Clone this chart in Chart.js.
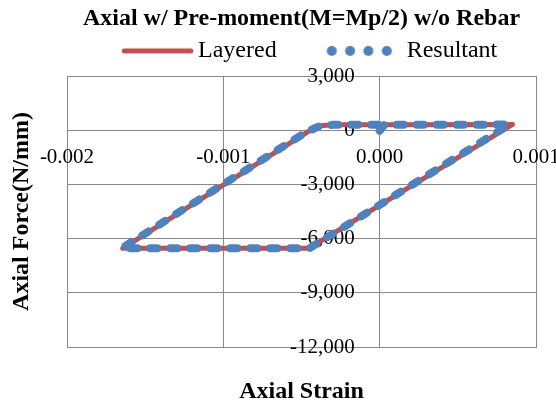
<!DOCTYPE html>
<html><head><meta charset="utf-8">
<script src="https://cdn.jsdelivr.net/npm/chart.js@4.4.1/dist/chart.umd.min.js"></script>
<style>html,body{margin:0;padding:0;background:#fff;}canvas{display:block;}</style>
</head><body>
<canvas id="c" width="556" height="407"></canvas>
<script>
const chartTitle = 'Axial w/ Pre-moment(M=Mp/2) w/o Rebar';
const xTitle = 'Axial Strain';
const yTitle = 'Axial Force(N/mm)';
const seriesNames = ['Layered', 'Resultant'];

const layeredStrain = [0, 0.00004, 0.00085, -0.000454, -0.001644, -0.00046, -0.00038, -0.00030, 0];
const layeredForce  = [0, 300, 320, -6540, -6540, -90, 250, 300, 300];

const resultantStrain = [0, 0.00003, 0.00083, -0.00045, -0.00165, -0.00047, -0.00038, -0.00030, 0.00002];
const resultantForce  = [-30, 300, 310, -6540, -6540, -100, 240, 300, 300];

const xTickLabels = ['-0.002', '-0.001', '0.000', '0.001'];
const yTickLabels = ['-12,000', '-9,000', '-6,000', '-3,000', '0', '3,000'];

const X_MIN = -0.002, X_MAX = 0.001, X_STEP = 0.001;
const Y_MIN = -12000, Y_MAX = 3000, Y_STEP = 3000;

const RED = '#C0504D';
const BLUE = '#4F81BD';
const GRID = '#898989';
const FF = "'Liberation Serif', 'Times New Roman', Times, serif";

function lineImg() {
  const c = document.createElement('canvas');
  c.width = 134; c.height = 14;
  const g = c.getContext('2d');
  g.strokeStyle = RED; g.lineWidth = 5; g.lineCap = 'round';
  g.beginPath(); g.moveTo(67 + 27.5 - 33.3, 7); g.lineTo(67 + 27.5 + 33.3, 7); g.stroke();
  return c;
}
function dotsImg() {
  const c = document.createElement('canvas');
  c.width = 112; c.height = 14;
  const g = c.getContext('2d');
  g.fillStyle = BLUE;
  [-6.9, 11.4, 29.7, 48.1].forEach(dx => { g.beginPath(); g.arc(56 + dx, 7, 5, 0, Math.PI * 2); g.fill(); });
  return c;
}
const legendImgs = [lineImg(), dotsImg()];

const toPts = (xs, ys) => xs.map((x, i) => ({x: x, y: ys[i]}));

new Chart(document.getElementById('c'), {
  type: 'line',
  data: {
    datasets: [
      {label: seriesNames[0], data: toPts(layeredStrain, layeredForce), borderColor: RED, backgroundColor: RED,
       borderWidth: 5, pointRadius: 0, fill: false, tension: 0, order: 1, borderJoinStyle: 'round'},
      {label: seriesNames[1], data: toPts(resultantStrain, resultantForce), borderColor: BLUE, backgroundColor: BLUE,
       borderWidth: 8, borderDash: [7, 13], borderCapStyle: 'round', pointRadius: 0, fill: false, tension: 0, order: 0}
    ]
  },
  options: {
    responsive: false,
    animation: false,
    devicePixelRatio: 1,
    layout: {padding: {left: 35.3, right: 20, top: 0, bottom: 0}},
    plugins: {
      tooltip: {enabled: false},
      title: {display: true, text: chartTitle, color: '#000', fullSize: false,
              font: {family: FF, size: 24, weight: 'bold'}, padding: {top: 4.1, bottom: 0}},
      legend: {
        display: true, position: 'top',
        labels: {
          usePointStyle: true, pointStyleWidth: 112, padding: 6, color: '#000',
          font: {family: FF, size: 24},
          generateLabels: (chart) => chart.data.datasets.map((ds, i) => ({
            text: ds.label, fillStyle: ds.borderColor, strokeStyle: ds.borderColor, lineWidth: 0,
            pointStyle: legendImgs[i], hidden: false, datasetIndex: i, fontColor: '#000'
          }))
        }
      }
    },
    scales: {
      x: {
        type: 'linear', position: 'bottom', min: X_MIN, max: X_MAX,
        ticks: {display: false, stepSize: X_STEP},
        grid: {color: GRID, lineWidth: 1, drawTicks: false},
        border: {display: true, color: GRID, width: 1},
        title: {display: true, text: xTitle, color: '#000', font: {family: FF, size: 24, weight: 'bold'}, padding: {top: 30.6, bottom: 0.6}},
        afterFit: (s) => { s.height = 60; }
      },
      y: {
        type: 'linear', position: 'left', min: Y_MIN, max: Y_MAX,
        ticks: {display: false, stepSize: Y_STEP},
        grid: {color: GRID, lineWidth: 1, drawTicks: false},
        border: {display: true, color: GRID, width: 1},
        title: {display: true, text: yTitle, color: '#000', font: {family: FF, size: 24, weight: 'bold'}, padding: {top: -28.2, bottom: 31.1}},
        afterFit: (s) => { s.width = 31.7; }
      },
      xTop: {
        type: 'linear', position: 'top', display: true,
        ticks: {display: false}, grid: {display: false, drawTicks: false}, border: {display: false},
        afterFit: (s) => { s.height = 3.1; }
      },
      x2: {
        type: 'linear', position: {y: 0}, min: X_MIN, max: X_MAX,
        ticks: {stepSize: X_STEP, color: '#000', padding: 15, maxRotation: 0, autoSkip: false,
                font: {family: FF, size: 21}, callback: (v, i) => xTickLabels[i]},
        grid: {display: false, drawTicks: false}, border: {display: false},
        afterFit: (s) => { s.paddingLeft = 0; s.paddingRight = 0; }
      },
      y2: {
        type: 'linear', position: {x: -0.00016}, min: Y_MIN, max: Y_MAX,
        ticks: {stepSize: Y_STEP, color: '#000', padding: 0, autoSkip: false,
                font: {family: FF, size: 21}, callback: (v, i) => yTickLabels[i]},
        grid: {display: false, drawTicks: false}, border: {display: false},
        afterFit: (s) => { s.paddingTop = 0; s.paddingBottom = 0; }
      }
    }
  }
});
</script>
</body></html>
